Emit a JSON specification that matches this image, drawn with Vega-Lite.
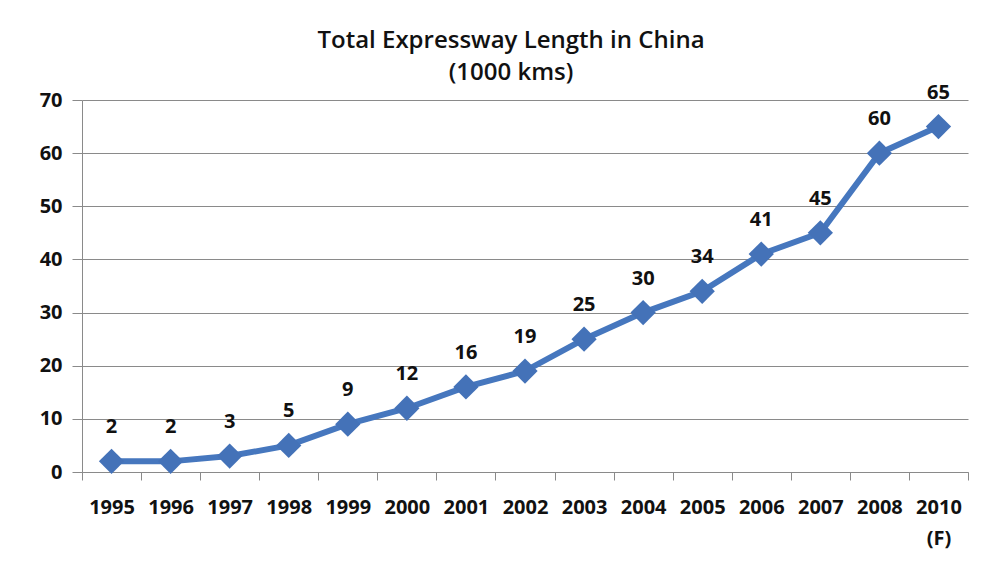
{
  "$schema": "https://vega.github.io/schema/vega-lite/v6.json",
  "width": 886,
  "height": 372,
  "autosize": {"type": "none"},
  "padding": {"left": 82, "top": 100, "right": 36, "bottom": 95},
  "background": "white",
  "title": {
    "text": ["Total Expressway Length in China", "(1000 kms)"],
    "font": "Open Sans",
    "fontSize": 24,
    "fontWeight": 600,
    "color": "#111111",
    "lineHeight": 32,
    "anchor": "middle",
    "frame": "group",
    "dx": -14,
    "offset": -2
  },
  "config": {
    "view": {"stroke": null},
    "font": "Open Sans"
  },
  "data": {
    "values": [
      {"year": "1995", "length": 2},
      {"year": "1996", "length": 2},
      {"year": "1997", "length": 3},
      {"year": "1998", "length": 5},
      {"year": "1999", "length": 9},
      {"year": "2000", "length": 12},
      {"year": "2001", "length": 16},
      {"year": "2002", "length": 19},
      {"year": "2003", "length": 25},
      {"year": "2004", "length": 30},
      {"year": "2005", "length": 34},
      {"year": "2006", "length": 41},
      {"year": "2007", "length": 45},
      {"year": "2008", "length": 60},
      {"year": "2010", "length": 65}
    ]
  },
  "encoding": {
    "x": {
      "field": "year",
      "type": "nominal",
      "sort": null,
      "scale": {"paddingInner": 0, "paddingOuter": 0},
      "axis": {
        "title": null,
        "labelAngle": 0,
        "labelFont": "Open Sans",
        "labelFontSize": 20,
        "labelFontWeight": "bold",
        "labelColor": "#111111",
        "labelPadding": 17,
        "labelLineHeight": 31,
        "labelExpr": "datum.value == '2010' ? ['2010', '(F)'] : datum.value",
        "tickBand": "extent",
        "tickSize": 8,
        "tickColor": "#8a8a8a",
        "domainColor": "#8a8a8a",
        "grid": false
      }
    },
    "y": {
      "field": "length",
      "type": "quantitative",
      "scale": {"domain": [0, 70], "nice": false},
      "axis": {
        "title": null,
        "values": [0, 10, 20, 30, 40, 50, 60, 70],
        "labelFont": "Open Sans",
        "labelFontSize": 20,
        "labelFontWeight": "bold",
        "labelColor": "#111111",
        "labelPadding": 10,
        "tickSize": 10,
        "tickColor": "#8a8a8a",
        "domainColor": "#8a8a8a",
        "grid": true,
        "gridColor": "#8a8a8a",
        "gridWidth": 1
      }
    }
  },
  "layer": [
    {
      "mark": {"type": "line", "color": "#4677BE", "strokeWidth": 6}
    },
    {
      "mark": {"type": "point", "shape": "diamond", "filled": true, "size": 640, "color": "#4472B8", "opacity": 1}
    },
    {
      "mark": {"type": "text", "dy": -34, "font": "Open Sans", "fontSize": 20, "fontWeight": "bold", "color": "#111111"},
      "encoding": {"text": {"field": "length", "type": "quantitative"}}
    }
  ]
}
